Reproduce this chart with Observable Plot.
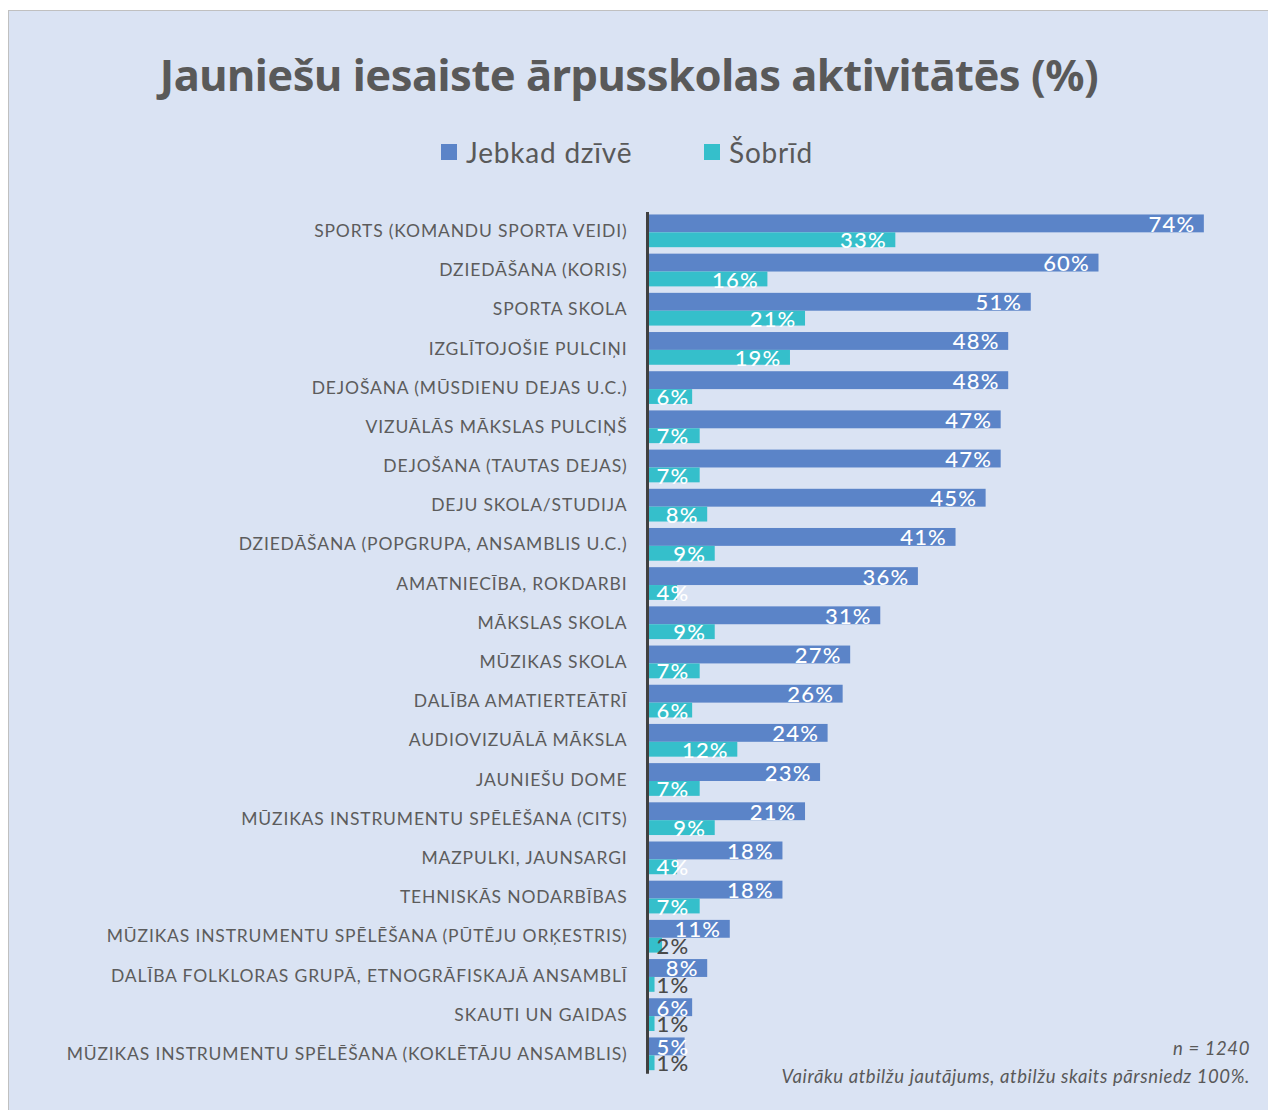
<!DOCTYPE html>
<html>
<head>
<meta charset="utf-8">
<script src="https://cdn.jsdelivr.net/npm/d3@7"></script>
<script src="https://cdn.jsdelivr.net/npm/@observablehq/plot@0.6"></script>
<style>
  html, body { margin: 0; padding: 0; background: #ffffff; }
  body { width: 1268px; height: 1110px; position: relative; overflow: hidden; font-family: Lato, "Noto Sans", sans-serif; color: #595959; }
  #frame { position: absolute; left: 8px; top: 10px; width: 1275px; height: 1120px; background: #dae3f3; border: 1.5px solid #c0c0c0; box-sizing: border-box; }
  #title { position: absolute; left: 0; top: 43.5px; width: 1258px; text-align: center; font-family: "Noto Sans", sans-serif; font-weight: 700; font-size: 43.5px; line-height: normal; letter-spacing: -0.5px; color: #595959; white-space: nowrap; }
  #legend { position: absolute; top: 135px; left: 0; width: 1268px; height: 40px; }
  .lg-item { position: absolute; display: flex; align-items: center; font-size: 28px; letter-spacing: 0.8px; color: #595959; white-space: nowrap; }
  .lg-sw { width: 16px; height: 16px; margin-right: 9px; }
  #chart { position: absolute; left: 0; top: 190px; }
  #chart svg [aria-label^="y-axis"] text { letter-spacing: 0.85px; }
  #chart svg g[aria-label="text"] text { letter-spacing: 1.2px; }
  #caption { position: absolute; right: 18px; top: 1034px; text-align: right; font-style: italic; font-size: 18.5px; letter-spacing: 0.6px; line-height: 28px; color: #595959; }
</style>
</head>
<body>
<div id="frame"></div>
<div id="title">Jauniešu iesaiste ārpusskolas aktivitātēs (%)</div>
<div id="legend"></div>
<div id="chart"></div>
<div id="caption">n = 1240<br>Vairāku atbilžu jautājums, atbilžu skaits pārsniedz 100%.</div>
<script>
const categories = [
  "SPORTS (KOMANDU SPORTA VEIDI)",
  "DZIEDĀŠANA (KORIS)",
  "SPORTA SKOLA",
  "IZGLĪTOJOŠIE PULCIŅI",
  "DEJOŠANA (MŪSDIENU DEJAS U.C.)",
  "VIZUĀLĀS MĀKSLAS PULCIŅŠ",
  "DEJOŠANA (TAUTAS DEJAS)",
  "DEJU SKOLA/STUDIJA",
  "DZIEDĀŠANA (POPGRUPA, ANSAMBLIS U.C.)",
  "AMATNIECĪBA, ROKDARBI",
  "MĀKSLAS SKOLA",
  "MŪZIKAS SKOLA",
  "DALĪBA AMATIERTEĀTRĪ",
  "AUDIOVIZUĀLĀ MĀKSLA",
  "JAUNIEŠU DOME",
  "MŪZIKAS INSTRUMENTU SPĒLĒŠANA (CITS)",
  "MAZPULKI, JAUNSARGI",
  "TEHNISKĀS NODARBĪBAS",
  "MŪZIKAS INSTRUMENTU SPĒLĒŠANA (PŪTĒJU ORĶESTRIS)",
  "DALĪBA FOLKLORAS GRUPĀ, ETNOGRĀFISKAJĀ ANSAMBLĪ",
  "SKAUTI UN GAIDAS",
  "MŪZIKAS INSTRUMENTU SPĒLĒŠANA (KOKLĒTĀJU ANSAMBLIS)"
];
const jebkadDzive = [74, 60, 51, 48, 48, 47, 47, 45, 41, 36, 31, 27, 26, 24, 23, 21, 18, 18, 11, 8, 6, 5];
const sobrid      = [33, 16, 21, 19, 6, 7, 7, 8, 9, 4, 9, 7, 6, 12, 7, 9, 4, 7, 2, 1, 1, 1];
const seriesNames = ["Jebkad dzīvē", "Šobrīd"];
const seriesColors = ["#5b84c8", "#35bfcb"];

const rows = categories.map((c, i) => ({cat: c, a: jebkadDzive[i], b: sobrid[i]}));

// layout
const width = 1268;
const marginLeft = 647;
const marginRight = 19;
const marginTop = 18;
const marginBottom = 12;
const pad = 0.165;
const step = 39.19;
const rangeH = step * (categories.length - pad + 2 * pad);
const height = marginTop + rangeH + marginBottom;
const bw = step * (1 - pad);
const splitA = bw * 0.546; // height of "Jebkad dzīvē" bar
const splitB = bw - splitA;

const smallLimit = 7;
const fmt = v => v + "%";
const lblSize = 22;

const chart = Plot.plot({
  width, height, marginLeft, marginRight, marginTop, marginBottom,
  style: {background: "transparent", fontFamily: "Lato, 'Noto Sans', sans-serif", fontSize: "17.5px", color: "#5c5c5c"},
  x: {domain: [0, 80], axis: null},
  y: {domain: categories, padding: pad, round: false, label: null, tickSize: 0, tickPadding: 20},
  marks: [
    Plot.barX(rows, {x: "a", y: "cat", fill: seriesColors[0], insetBottom: splitB}),
    Plot.barX(rows, {x: "b", y: "cat", fill: seriesColors[1], insetTop: splitA}),
    Plot.ruleX([0], {stroke: "#404040", strokeWidth: 3, insetTop: 4, insetBottom: 3}),
    // labels for "Jebkad dzīvē"
    Plot.text(rows.filter(d => d.a > smallLimit), {x: "a", y: "cat", text: d => fmt(d.a), textAnchor: "end", dx: -9, dy: -6.5, fill: "white", fontSize: lblSize, fontWeight: 500}),
    Plot.text(rows.filter(d => d.a <= smallLimit), {x: 0, y: "cat", text: d => fmt(d.a), textAnchor: "start", dx: 9, dy: -6.5, fill: "white", fontSize: lblSize, fontWeight: 500}),
    // labels for "Šobrīd"
    Plot.text(rows.filter(d => d.b > smallLimit), {x: "b", y: "cat", text: d => fmt(d.b), textAnchor: "end", dx: -9, dy: 10, fill: "white", fontSize: lblSize, fontWeight: 500}),
    Plot.text(rows.filter(d => d.b <= smallLimit), {x: 0, y: "cat", text: d => fmt(d.b), textAnchor: "start", dx: 9, dy: 10, fill: d => d.b <= 2 ? "#4a4a4a" : "white", fontSize: lblSize, fontWeight: 500})
  ]
});
document.getElementById("chart").appendChild(chart);

// legend
const legend = document.getElementById("legend");
const lgX = [441, 704];
seriesNames.forEach((name, i) => {
  const item = document.createElement("div");
  item.className = "lg-item";
  item.style.left = lgX[i] + "px";
  item.style.top = "0px";
  const sw = document.createElement("span");
  sw.className = "lg-sw";
  sw.style.background = seriesColors[i];
  const tx = document.createElement("span");
  tx.textContent = name;
  item.appendChild(sw);
  item.appendChild(tx);
  legend.appendChild(item);
});
</script>
</body>
</html>
